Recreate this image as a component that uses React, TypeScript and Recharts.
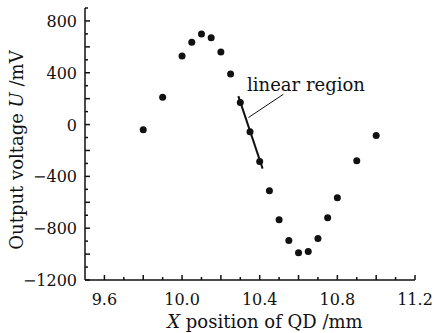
import { ReferenceDot, ReferenceLine, Scatter, ScatterChart, XAxis, YAxis } from "recharts";

const positions = [
  9.8, 9.9, 10.0, 10.05, 10.1, 10.15, 10.2, 10.25, 10.3, 10.35, 10.4, 10.45,
  10.5, 10.55, 10.6, 10.65, 10.7, 10.75, 10.8, 10.9, 11.0
];
const voltages = [
  -40, 210, 530, 635, 700, 670, 560, 390, 170, -55, -285, -510,
  -735, -895, -990, -980, -880, -720, -565, -280, -85
];

// fitted line over the linear region
const fitX = [10.29, 10.415];
const fitU = [220, -340];

// leader from the label to the fit line
const leaderX = [10.342, 10.522];
const leaderU = [54, 234];
const labelX = 10.335;
const labelU = 257;

const xTicks = [
  9.6, 9.7, 9.8, 9.9, 10.0, 10.1, 10.2, 10.3, 10.4, 10.5, 10.6, 10.7, 10.8,
  10.9, 11.0, 11.1, 11.2
];
const xLabels = [9.6, 10.0, 10.4, 10.8, 11.2];
const yTicks = [
  -1200, -1100, -1000, -900, -800, -700, -600, -500, -400, -300, -200, -100, 0,
  100, 200, 300, 400, 500, 600, 700, 800, 900
];
const yLabels = [-1200, -800, -400, 0, 400, 800];

const points = positions.map((x, i) => ({ x, u: voltages[i] }));
const fitLine = fitX.map((x, i) => ({ x, u: fitU[i] }));

const font = "'DejaVu Serif', serif";
const ink = "#111";

const near = (list: number[], v: number) => list.some((t) => Math.abs(t - v) < 1e-6);

function XTick(props: any) {
  const { x, y, payload } = props;
  const v = payload.value as number;
  const major = Math.round(v * 10) % 2 === 0;
  return (
    <g>
      <line x1={x} x2={x} y1={y} y2={y - (major ? 5 : 3)} stroke={ink} strokeWidth={1.5} />
      {near(xLabels, v) && (
        <text x={x} y={y + 25} textAnchor="middle" fontFamily={font} fontSize={16} fill={ink}>
          {v.toFixed(1)}
        </text>
      )}
    </g>
  );
}

function YTick(props: any) {
  const { x, y, payload } = props;
  const v = payload.value as number;
  const major = v % 200 === 0;
  return (
    <g>
      <line x1={x} x2={x + (major ? 5 : 3)} y1={y} y2={y} stroke={ink} strokeWidth={1.5} />
      {near(yLabels, v) && (
        <text x={x - 8} y={y + 6} textAnchor="end" fontFamily={font} fontSize={16} fill={ink}>
          {String(v).replace("-", "\u2212")}
        </text>
      )}
    </g>
  );
}

const dot = (p: any) => <circle cx={p.cx} cy={p.cy} r={3.5} fill={ink} />;

export default function App() {
  return (
    <div style={{ width: 440, height: 333, background: "#fff", position: "relative" }}>
      <style>{"body{margin:0}"}</style>
      <ScatterChart width={440} height={333} margin={{ top: 8, right: 25, bottom: 23, left: 25 }}>
        <XAxis
          type="number"
          dataKey="x"
          domain={[9.5, 11.2]}
          ticks={xTicks}
          interval={0}
          tickSize={0}
          tickMargin={0}
          tickLine={false}
          tick={<XTick />}
          axisLine={{ stroke: ink, strokeWidth: 1.5 }}
          allowDataOverflow
          height={30}
        />
        <YAxis
          type="number"
          dataKey="u"
          domain={[-1200, 900]}
          ticks={yTicks}
          interval={0}
          tickSize={0}
          tickMargin={0}
          tickLine={false}
          tick={<YTick />}
          axisLine={{ stroke: ink, strokeWidth: 1.5 }}
          allowDataOverflow
          width={60}
        />
        <Scatter
          data={fitLine}
          line={{ stroke: ink, strokeWidth: 2 }}
          shape={() => <g />}
          isAnimationActive={false}
        />
        <Scatter data={points} shape={dot} isAnimationActive={false} />
        <ReferenceLine
          segment={[
            { x: leaderX[0], y: leaderU[0] },
            { x: leaderX[1], y: leaderU[1] }
          ]}
          stroke={ink}
          strokeWidth={1}
          ifOverflow="visible"
        />
        <ReferenceDot
          x={labelX}
          y={labelU}
          r={0}
          fill="none"
          stroke="none"
          label={(p: any) => (
            <text x={p.viewBox.x} y={p.viewBox.y} fontFamily={font} fontSize={18} fill={ink}>
              linear region
            </text>
          )}
        />
      </ScatterChart>
      <svg
        width={440}
        height={333}
        style={{ position: "absolute", left: 0, top: 0, pointerEvents: "none" }}
      >
        <text
          transform="translate(23,150) rotate(-90)"
          textAnchor="middle"
          fontFamily={font}
          fontSize={18}
          fill={ink}
        >
          Output voltage <tspan fontStyle="italic">U</tspan> /mV
        </text>
        <text x={265} y={328} textAnchor="middle" fontFamily={font} fontSize={18} fill={ink}>
          <tspan fontStyle="italic">X</tspan> position of QD /mm
        </text>
      </svg>
    </div>
  );
}
